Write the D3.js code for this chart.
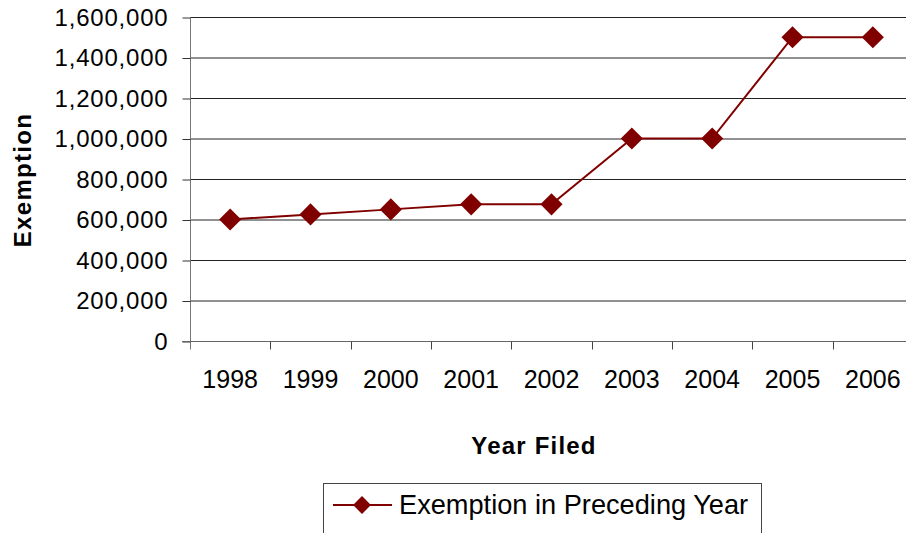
<!DOCTYPE html>
<html>
<head>
<meta charset="utf-8">
<script src="https://cdn.jsdelivr.net/npm/d3@7"></script>
<style>
  body { margin: 0; background: #fff; }
  svg { display: block; font-family: "Liberation Sans", Arial, sans-serif; }
</style>
</head>
<body>
<svg width="906" height="533"></svg>
<script>
// data
var years = ["1998", "1999", "2000", "2001", "2002", "2003", "2004", "2005", "2006"];
var exemption = [600000, 625000, 650000, 675000, 675000, 1000000, 1000000, 1500000, 1500000];
var yTicks = [0, 200000, 400000, 600000, 800000, 1000000, 1200000, 1400000, 1600000];
var seriesName = "Exemption in Preceding Year";

var svg = d3.select("svg");
var color = "#800000";

var x = d3.scaleBand()
    .domain(years)
    .range([190, 913])
    .padding(0);

var y = d3.scaleLinear()
    .domain([0, 1600000])
    .range([341, 17]);

// gridlines
svg.append("g")
    .selectAll("line")
    .data(yTicks.slice(1))
    .enter().append("line")
    .attr("x1", 190)
    .attr("x2", 913)
    .attr("y1", function(d) { return y(d) + 0.5; })
    .attr("y2", function(d) { return y(d) + 0.5; })
    .attr("stroke", "#222")
    .attr("stroke-width", 1);

// y axis
var gy = svg.append("g")
    .attr("transform", "translate(190.5,0.5)")
    .call(d3.axisLeft(y)
        .tickValues(yTicks)
        .tickFormat(d3.format(","))
        .tickSize(8)
        .tickPadding(14));
gy.select(".domain").attr("stroke", "#777").attr("d", "M0," + (y(1600000) - 0.5) + "V" + (y(0) + 8));
gy.selectAll(".tick line").attr("stroke", "#333");
gy.selectAll("text")
    .attr("font-size", 24)
    .attr("letter-spacing", 0.8)
    .attr("fill", "#000")
    .attr("font-family", "'Liberation Sans', Arial, sans-serif");

// x axis: labels at band centres, ticks on band edges
var gx = svg.append("g")
    .attr("transform", "translate(0," + (y(0) + 0.5) + ")")
    .call(d3.axisBottom(x).tickSize(0).tickPadding(29));
gx.select(".domain").attr("stroke", "#666").attr("d", "M182,0H913");
gx.selectAll("text")
    .attr("font-size", 25)
    .attr("fill", "#000")
    .attr("font-family", "'Liberation Sans', Arial, sans-serif");
gx.append("g")
    .selectAll("line")
    .data(years.slice(1))
    .enter().append("line")
    .attr("x1", function(d) { return Math.round(x(d)) + 0.5; })
    .attr("x2", function(d) { return Math.round(x(d)) + 0.5; })
    .attr("y1", 0)
    .attr("y2", 8)
    .attr("stroke", "#444");

// axis titles
svg.append("text")
    .attr("transform", "translate(31,180) rotate(-90)")
    .attr("text-anchor", "middle")
    .attr("font-size", 24)
    .attr("font-weight", "bold")
    .attr("letter-spacing", 1.3)
    .text("Exemption");

svg.append("text")
    .attr("x", 534)
    .attr("y", 454)
    .attr("text-anchor", "middle")
    .attr("font-size", 24)
    .attr("font-weight", "bold")
    .attr("letter-spacing", 1.2)
    .text("Year Filed");

// series line and markers
var line = d3.line()
    .x(function(d, i) { return x(years[i]) + x.bandwidth() / 2; })
    .y(function(d) { return y(d); });

svg.append("path")
    .datum(exemption)
    .attr("fill", "none")
    .attr("stroke", color)
    .attr("stroke-width", 2)
    .attr("d", line);

// square rotated 45 degrees gives the even diamond of the original
var diamond = d3.symbol().type(d3.symbolSquare).size(245);

svg.append("g")
    .selectAll("path")
    .data(exemption)
    .enter().append("path")
    .attr("transform", function(d, i) {
        return "translate(" + (x(years[i]) + x.bandwidth() / 2) + "," + y(d) + ") rotate(45)";
    })
    .attr("d", diamond)
    .attr("fill", color);

// legend
var legend = svg.append("g");
legend.append("rect")
    .attr("x", 323.5)
    .attr("y", 483.5)
    .attr("width", 438)
    .attr("height", 60)
    .attr("fill", "#fff")
    .attr("stroke", "#444");
legend.append("line")
    .attr("x1", 333)
    .attr("x2", 392)
    .attr("y1", 505)
    .attr("y2", 505)
    .attr("stroke", color)
    .attr("stroke-width", 2);
legend.append("path")
    .attr("transform", "translate(362,505) rotate(45)")
    .attr("d", d3.symbol().type(d3.symbolSquare).size(160)())
    .attr("fill", color);
legend.append("text")
    .attr("x", 399)
    .attr("y", 514)
    .attr("font-size", 27.2)
    .text(seriesName);
</script>
</body>
</html>
